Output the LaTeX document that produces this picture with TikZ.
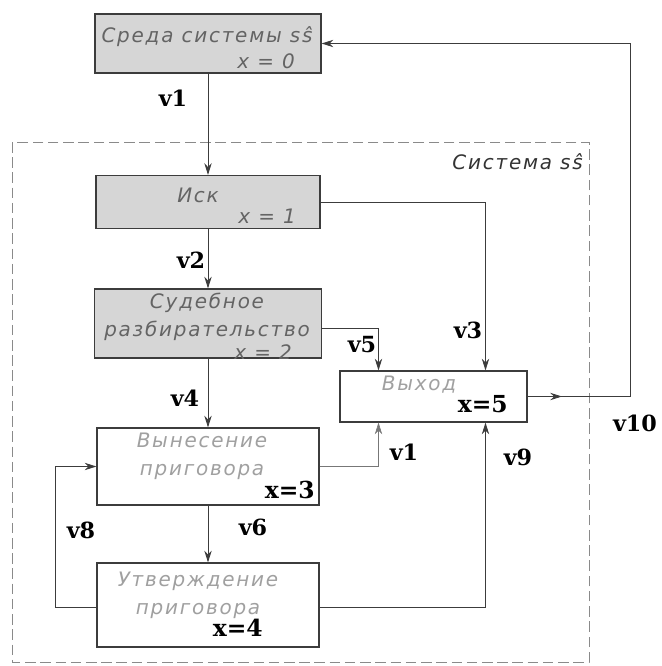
\documentclass[tikz,border=0pt]{standalone}
\usepackage{fontspec}
\setmainfont{DejaVu Serif}
\newfontfamily\boxfont[LetterSpace=9]{DejaVu Sans}
\usetikzlibrary{positioning,arrows.meta,calc,decorations.markings}
\definecolor{ssgray}{RGB}{214,214,214}
\definecolor{ssline}{RGB}{60,60,60}
\definecolor{sstext}{RGB}{100,100,100}
\definecolor{sspale}{RGB}{160,160,160}
\tikzset{
  stage/.style={draw=ssline, line width=1pt, fill=ssgray},
  outstage/.style={stage, fill=white},
  boxtext/.style={font=\boxfont\itshape\fontsize{17}{24}\selectfont, text=sstext, align=center, inner sep=0pt},
  paletext/.style={boxtext, text=sspale},
  xbold/.style={font=\bfseries\fontsize{20}{22}\selectfont, inner sep=0pt},
  vlab/.style={font=\bfseries\fontsize{19}{21}\selectfont},
  arrow/.style={-{Stealth[length=3.5mm,width=2.2mm]}, line width=0.8pt, ssline},
  weak/.style={line width=0.5pt, ssline!70}
}

\begin{document}
\begin{tikzpicture}[x=0.03cm, y=-0.03cm]
    \useasboundingbox (0,0) rectangle (661,666);
    % system boundary
    \draw[dashed, ssline!60, line width=0.7pt, dash pattern=on 9pt off 4pt] (12,142) rectangle (589,662);
    \node[boxtext, anchor=east, text=black!80] (systitle) at (583,162) {Система sŝ};

    % stages
    \node[stage, minimum width=6.78cm, minimum height=1.77cm] (env) at (208,43.5) {};
    \node[stage, minimum width=6.72cm, minimum height=1.59cm] (isk) at (208,202) {};
    \node[stage, minimum width=6.81cm, minimum height=2.07cm] (sud) at (208,323.5) {};
    \node[outstage, minimum width=5.61cm, minimum height=1.53cm] (vyh) at (433.5,396.5) {};
    \node[outstage, minimum width=6.66cm, minimum height=2.31cm] (vyn) at (208,466.5) {};
    \node[outstage, minimum width=6.66cm, minimum height=2.52cm] (utv) at (208,605) {};

    \node[boxtext] (envname) at (207,37) {Среда системы sŝ};
    \node[boxtext, anchor=east] (envx) at (295,61) {x = 0};
    \node[boxtext] (iskname) at (198,195) {Иск};
    \node[boxtext, anchor=east] (iskx) at (296,216) {x = 1};
    \node[boxtext] (sudname) at (207,317) {Судебное\\разбирательство};
    \node[boxtext, anchor=east] (sudx) at (292,352) {x = 2};
    \node[paletext] (vyhname) at (419,385) {Выход};
    \node[xbold, anchor=east] (vyhx) at (508,404) {x=5};
    \node[paletext] (vynname) at (202,456) {Вынесение\\приговора};
    \node[xbold, anchor=east] (vynx) at (315,490) {x=3};
    \node[paletext] (utvname) at (198,595) {Утверждение\\приговора};
    \node[xbold, anchor=east] (utvx) at (263,628) {x=4};

    % connections
    \draw[arrow] (env) -- (isk);
    \draw[arrow] (isk) -- (sud);
    \draw[arrow] (sud) -- (vyn);
    \draw[arrow] (vyn) -- (utv);
    \draw[arrow] (isk.east) -| ($(vyh.north)+(52,0)$);
    \draw[arrow] ($(sud.east)+(0,5)$) -| ($(vyh.north)+(-55,0)$);
    \draw[arrow, weak] (vyn.east) -| ($(vyh.south)+(-55,0)$);
    \draw[arrow] ($(utv.east)+(0,2)$) -| ($(vyh.south)+(52,0)$);
    \draw[arrow] ($(utv.west)+(0,2)$) -- ++(-41,0) |- (vyn.west);
    \coordinate (back) at (630,0);
    \draw[arrow, postaction=decorate, decoration={markings,
        mark=at position 0.045 with {\arrow{Stealth[length=3.5mm,width=2.2mm]}}}]
        (vyh.east) -- (vyh.east -| back) |- (env.east);

    % flow labels
    \node[vlab] (v1) at (173,98) {v1};
    \node[vlab] (v2) at (191,260) {v2};
    \node[vlab] (v3) at (468,330) {v3};
    \node[vlab] (v5) at (362,345) {v5};
    \node[vlab] (v4) at (185,398) {v4};
    \node[vlab] (v1b) at (404,452) {v1};
    \node[vlab] (v9) at (518,457) {v9};
    \node[vlab] (v6) at (253,527) {v6};
    \node[vlab] (v8) at (81,530) {v8};
    \node[vlab] (v10) at (635,423) {v10};
\end{tikzpicture}
\end{document}
